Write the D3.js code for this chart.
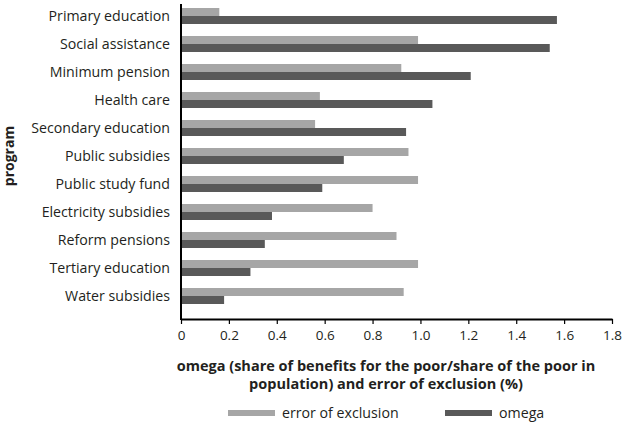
<!DOCTYPE html>
<html>
<head>
<meta charset="utf-8">
<script src="https://cdn.jsdelivr.net/npm/d3@7"></script>
<style>
body { margin: 0; background: #fff; }
svg { display: block; font-family: "Open Sans", "DejaVu Sans", sans-serif; }
</style>
</head>
<body>
<svg id="chart" width="624" height="434"></svg>
<script>
const categories = ["Primary education","Social assistance","Minimum pension","Health care","Secondary education","Public subsidies","Public study fund","Electricity subsidies","Reform pensions","Tertiary education","Water subsidies"];
const errorOfExclusion = [0.16,0.99,0.92,0.58,0.56,0.95,0.99,0.80,0.90,0.99,0.93];
const omega = [1.57,1.54,1.21,1.05,0.94,0.68,0.59,0.38,0.35,0.29,0.18];
const xTicks = [0,0.2,0.4,0.6,0.8,1.0,1.2,1.4,1.6,1.8];
const xTickLabels = ["0","0.2","0.4","0.6","0.8","1.0","1.2","1.4","1.6","1.8"];
const seriesNames = ["error of exclusion","omega"];
const colors = ["#a6a6a6","#595959"];

const svg = d3.select("#chart");
const x = d3.scaleLinear().domain([0,1.8]).range([181,612]);
const y = d3.scaleBand().domain(categories).range([2,310]).paddingInner(12/28).paddingOuter(6/28);
const sub = d3.scaleBand().domain(seriesNames).range([0,y.bandwidth()]);
const textColor = "#231f20";

const data = categories.map((c,i)=>({c, vals:[errorOfExclusion[i], omega[i]]}));
const g = svg.append("g");
data.forEach(d=>{
  d.vals.forEach((v,j)=>{
    g.append("rect")
      .attr("x", x(0))
      .attr("y", y(d.c)+sub(seriesNames[j]))
      .attr("width", x(v)-x(0))
      .attr("height", sub.bandwidth())
      .attr("fill", colors[j]);
  });
});

// category labels
svg.append("g").selectAll("text").data(categories).join("text")
  .attr("x", 170).attr("y", d=>y(d)+y.bandwidth()/2)
  .attr("dy","0.35em").attr("text-anchor","end")
  .attr("font-size",14.2).attr("fill",textColor).text(d=>d);

// x axis
const xAxis = d3.axisBottom(x).tickValues(xTicks).tickFormat((d,i)=>xTickLabels[i]).tickSize(5).tickSizeOuter(0);
const ax = svg.append("g").attr("transform","translate(0,319)").call(xAxis);
ax.select(".domain").attr("stroke","#000").attr("stroke-width",2);
ax.selectAll(".tick line").attr("stroke","#000").attr("stroke-width",1.2);
ax.selectAll(".tick text").attr("font-size",13.5).attr("fill",textColor).attr("dy","0.95em")
  .attr("font-family","\"Open Sans\", \"DejaVu Sans\", sans-serif");

// y axis line
svg.append("line").attr("x1",x(0)).attr("x2",x(0)).attr("y1",4).attr("y2",320)
  .attr("stroke","#000").attr("stroke-width",2);

// x title
const title = svg.append("text").attr("text-anchor","middle").attr("font-size",14.5).attr("font-weight","bold").attr("fill",textColor);
title.append("tspan").attr("x",386).attr("y",371).text("omega (share of benefits for the poor/share of the poor in");
title.append("tspan").attr("x",386).attr("y",389).text("population) and error of exclusion (%)");

// y title
svg.append("text").attr("transform","translate(14,156) rotate(-90)")
  .attr("text-anchor","middle").attr("font-size",14).attr("font-weight","bold").attr("fill",textColor).text("program");

// legend
const legX = [228, 445];
seriesNames.forEach((s,j)=>{
  svg.append("rect").attr("x",legX[j]).attr("y",410).attr("width",47).attr("height",6).attr("fill",colors[j]);
  svg.append("text").attr("x",legX[j]+54).attr("y",413).attr("dy","0.35em").attr("font-size",14.2).attr("fill",textColor).text(s);
});
</script>
</body>
</html>
